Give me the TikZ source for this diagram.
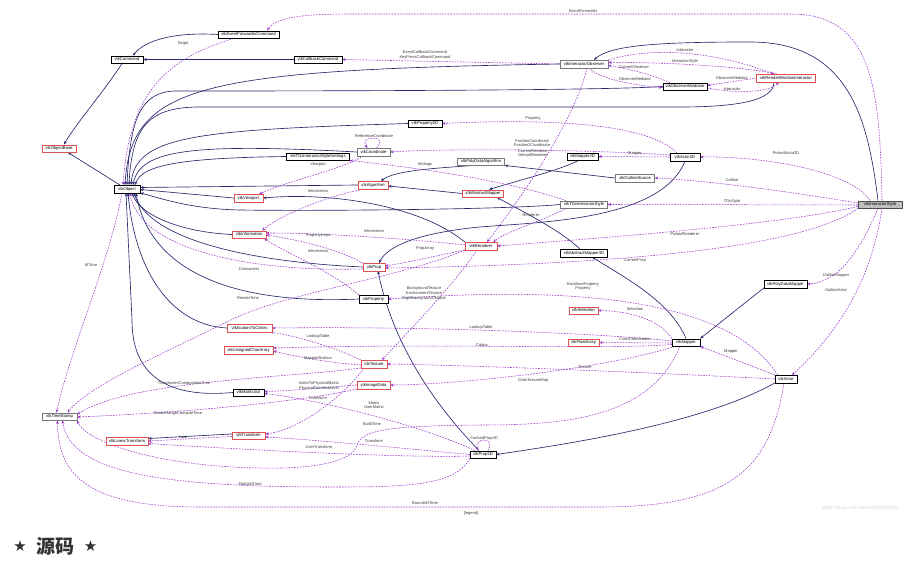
\documentclass[tikz,border=0pt]{standalone}
\usepackage{fontspec}
\setmainfont{Liberation Sans}
\newfontfamily\cjkfont{Noto Sans CJK SC}
\newfontfamily\symfont{DejaVu Sans}
\usetikzlibrary{arrows.meta}
\pgfdeclarelayer{back}
\pgfdeclarelayer{bg}
\pgfsetlayers{back,bg,main}
\definecolor{inhc}{RGB}{40,40,110}
\definecolor{usec}{RGB}{154,50,205}
\definecolor{redb}{RGB}{224,80,80}
\definecolor{grayb}{RGB}{120,120,120}
\definecolor{mainfill}{RGB}{191,191,191}
\definecolor{lblc}{RGB}{60,60,60}
\definecolor{titlec}{RGB}{51,51,51}
\tikzset{
  cls/.style={draw=black, line width=0.45pt, fill=white, font=\fontsize{4.2}{5}\selectfont, inner xsep=1.5pt, inner ysep=0pt, minimum height=7.5pt, text height=3pt, text depth=0.8pt},
  trunc/.style={cls, draw=redb},
  undoc/.style={cls, draw=grayb},
  mainc/.style={cls, fill=mainfill, draw=black!70},
  mw/.style={minimum width=#1pt},
  inh/.style={draw=inhc, line width=0.65pt, -{Stealth[length=3.4pt,width=2.8pt]}},
  use/.style={draw=usec, line width=0.55pt, dash pattern=on 1.6pt off 1.2pt, -{Stealth[length=3.4pt,width=2.8pt]}},
  lbl/.style={font=\fontsize{4}{4.8}\selectfont, text=lblc, inner sep=0pt, align=center},
}
\begin{document}
\begin{tikzpicture}[x=1pt,y=-1pt]
\begin{pgfonlayer}{back}
\fill[white] (0,0) rectangle (922,561);
\end{pgfonlayer}
\useasboundingbox (0,0) rectangle (922,561);
% ---------- classes ----------
\node[cls,mw=61] (EFC) at (248.5,34.5) {vtkEventForwarderCommand};
\node[cls,mw=32] (CMD) at (127,59.5) {vtkCommand};
\node[cls,mw=48] (CBC) at (318,59.5) {vtkCallbackCommand};
\node[undoc,mw=48] (IOB) at (584,64) {vtkInteractorObserver};
\node[trunc,mw=59] (RWI) at (786,78) {vtkRenderWindowInteractor};
\node[cls,mw=44] (OMD) at (685,86.5) {vtkObserverMediator};
\node[cls,mw=34] (P2D) at (425,123.5) {vtkProperty2D};
\node[trunc,mw=34] (OBB) at (59,148.5) {vtkObjectBase};
\node[undoc,mw=33] (CRD) at (373.5,152) {vtkCoordinate};
\node[cls,mw=63] (TDS) at (318,156.5) {vtkTDxInteractorStyleSettings};
\node[undoc,mw=47] (PDA) at (481,161.5) {vtkPolyDataAlgorithm};
\node[cls,mw=31] (M2D) at (582.5,156.5) {vtkMapper2D};
\node[cls,mw=30] (A2D) at (685,157) {vtkActor2D};
\node[cls,mw=26] (OBJ) at (127,189) {vtkObject};
\node[trunc,mw=30] (ALG) at (373,185) {vtkAlgorithm};
\node[undoc,mw=39] (OLS) at (635,178) {vtkOutlineSource};
\node[trunc,mw=41] (AMP) at (483,193.5) {vtkAbstractMapper};
\node[trunc,mw=29] (VPT) at (248.5,198) {vtkViewport};
\node[undoc,mw=47] (TDX) at (584,204.5) {vtkTDxInteractorStyle};
\node[mainc,mw=44] (IST) at (880,204.5) {vtkInteractorStyle};
\node[trunc,mw=34] (INF) at (249,234.5) {vtkInformation};
\node[trunc,mw=32] (REN) at (481,246) {vtkRenderer};
\node[cls,mw=47] (AM3) at (584,253) {vtkAbstractMapper3D};
\node[trunc,mw=22] (PRP) at (374,267) {vtkProp};
\node[cls,mw=29] (PTY) at (373.5,299) {vtkProperty};
\node[cls,mw=43] (PDM) at (785.5,284) {vtkPolyDataMapper};
\node[trunc,mw=29] (SEL) at (583.5,310.5) {vtkSelection};
\node[trunc,mw=45] (S2C) at (249.5,328) {vtkScalarsToColors};
\node[trunc,mw=31] (FLA) at (583.5,342.5) {vtkFloatArray};
\node[cls,mw=28] (MAP) at (686,342.5) {vtkMapper};
\node[trunc,mw=49] (UCA) at (248.5,350) {vtkUnsignedCharArray};
\node[trunc,mw=26] (TEX) at (374,364) {vtkTexture};
\node[cls,mw=22] (ACT) at (786,379) {vtkActor};
\node[trunc,mw=33] (IMD) at (373.5,385) {vtkImageData};
\node[cls,mw=31] (M44) at (248.5,392.5) {vtkMatrix4x4};
\node[undoc,mw=35] (TST) at (59.5,416.5) {vtkTimeStamp};
\node[trunc,mw=33] (TRF) at (248.5,435.5) {vtkTransform};
\node[trunc,mw=42] (LTF) at (127,441) {vtkLinearTransform};
\node[cls,mw=26] (P3D) at (483,454.5) {vtkProp3D};
% ---------- edges ----------
\begin{pgfonlayer}{bg}
% inheritance
\draw[inh] ([xshift=-5pt]CMD.south) .. controls (105,90) and (75,125) .. ([xshift=5pt]OBB.north);
\draw[inh] (EFC.west) .. controls (175,32) and (145,40) .. ([xshift=6pt]CMD.north);
\draw[inh] (CBC.west) -- (CMD.east);
\draw[inh] ([xshift=-7pt]OBJ.north) -- ([xshift=9pt]OBB.south);
\draw[inh] (IOB.west) .. controls (200,70) and (131,85) .. ([xshift=-2pt]OBJ.north);
\draw[inh] (OMD.west) .. controls (600,91) and (250,91) .. (175,91) .. controls (140,92) and (130,120) .. ([xshift=0pt]OBJ.north);
\draw[inh] ([xshift=-12pt]RWI.south) .. controls (774,100) and (740,107) .. (680,107) -- (200,107) .. controls (150,107) and (132,125) .. ([xshift=2pt]OBJ.north);
\draw[inh] (P2D.west) .. controls (200,130) and (135,135) .. ([xshift=4pt]OBJ.north);
\draw[inh] (CRD.west) .. controls (190,143) and (140,150) .. ([xshift=6pt]OBJ.north);
\draw[inh] (TDS.west) .. controls (180,158) and (142,165) .. ([xshift=8pt]OBJ.north);
\draw[inh] (ALG.west) -- ([yshift=1.5pt]OBJ.east);
\draw[inh] (VPT.west) -- ([yshift=-0.5pt]OBJ.east);
\draw[inh] (TDX.west) .. controls (500,210) and (300,211) .. (240,210) .. controls (190,209) and (160,198) .. (OBJ.south east);
\draw[inh] (INF.west) .. controls (180,232) and (140,215) .. ([xshift=5pt]OBJ.south);
\draw[inh] (PRP.west) .. controls (250,262) and (150,240) .. ([xshift=7pt]OBJ.south);
\draw[inh] (PTY.west) .. controls (230,305) and (150,270) .. ([xshift=9pt]OBJ.south);
\draw[inh] (S2C.west) .. controls (170,325) and (135,270) .. ([xshift=1pt]OBJ.south);
\draw[inh] (M44.west) .. controls (150,400) and (132,360) .. (132,320) -- ([xshift=-1pt]OBJ.south);
\draw[inh] ([xshift=-2pt]IST.north) .. controls (868,120) and (850,42) .. (750,42) .. controls (660,42) and (610,45) .. ([xshift=10pt]IOB.north);
\draw[inh] ([xshift=-8pt]PDA.south) .. controls (440,168) and (395,170) .. ([xshift=8pt]ALG.north);
\draw[inh] (OLS.west) -- (PDA.south east);
\draw[inh] ([xshift=-4pt]M2D.south) .. controls (560,170) and (520,180) .. ([xshift=6pt]AMP.north);
\draw[inh] (AMP.west) -- ([yshift=-1pt]ALG.east);
\draw[inh] ([xshift=-4pt]AM3.north) .. controls (560,230) and (520,210) .. ([xshift=14pt]AMP.south);
\draw[inh] (MAP.north) .. controls (670,300) and (620,275) .. ([xshift=8pt]AM3.south);
\draw[inh] (PDM.south west) -- (MAP.north east);
\draw[inh] (ACT.south west) .. controls (700,425) and (560,445) .. (P3D.east);
\draw[inh] ([xshift=-4pt]P3D.north) .. controls (430,400) and (392,340) .. ([xshift=4pt]PRP.south);
\draw[inh] (A2D.south) .. controls (660,225) and (520,222) .. (470,228) .. controls (420,234) and (388,245) .. ([xshift=5pt]PRP.north);
\draw[inh] (REN.north west) .. controls (420,205) and (330,192) .. (VPT.east);
\draw[inh] ([yshift=1.5pt]TRF.west) -- ([yshift=2.5pt]LTF.east);
% usage
\draw[use] ([xshift=2pt]IST.north) .. controls (880,80) and (870,14) .. (790,14) -- (350,14) .. controls (300,14) and (275,18) .. ([xshift=-12pt]EFC.north east);
\draw[use] ([xshift=-15pt]EFC.south) .. controls (160,60) and (129,100) .. ([xshift=-4pt]OBJ.north);
\draw[use] (IOB.west) -- (CBC.east);
\draw[use] (IOB.north east) .. controls (640,50) and (700,46) .. ([xshift=-12pt]RWI.north);
\draw[use] ([xshift=-9pt]RWI.north) .. controls (740,66) and (660,62) .. ([yshift=1.5pt]IOB.east);
\draw[use] ([xshift=-15pt]OMD.north) .. controls (650,74) and (625,68) .. ([yshift=-1.5pt]IOB.east);
\draw[use] ([xshift=5pt]IOB.south) .. controls (600,80) and (640,86) .. ([yshift=-1pt]OMD.west);
\draw[use] (RWI.west) -- ([yshift=1pt]OMD.east);
\draw[use] ([yshift=-1.5pt]OMD.east) .. controls (740,94) and (770,92) .. ([xshift=-7pt]RWI.south);
\draw[use] ([xshift=-8pt]A2D.north) .. controls (650,125) and (560,118) .. (P2D.east);
\draw[use] ([xshift=3pt]CRD.north) .. controls (390,135) and (358,135) .. ([xshift=-6pt]CRD.north);
\draw[use] ([yshift=2pt]A2D.west) .. controls (600,150) and (450,148) .. (CRD.east);
\draw[use] ([xshift=3pt]IOB.south) .. controls (575,120) and (520,200) .. ([xshift=6pt]REN.north);
\draw[use] (A2D.west) -- (M2D.east);
\draw[use] ([xshift=-10pt]IST.north) .. controls (850,170) and (760,156) .. (A2D.east);
\draw[use] ([yshift=1.5pt]IST.west) .. controls (780,190) and (700,180) .. (OLS.east);
\draw[use] ([xshift=-18pt]TDX.north) .. controls (500,178) and (400,166) .. (TDS.south east);
\draw[use] ([xshift=-10pt]CRD.south) .. controls (340,170) and (290,180) .. ([xshift=-4pt]VPT.north east);
\draw[use] ([yshift=-0.5pt]IST.west) -- (TDX.east);
\draw[use] ([xshift=-18pt]TDX.south) .. controls (540,222) and (505,232) .. ([xshift=-4pt]REN.north east);
\draw[use] ([xshift=-8pt]ALG.south) .. controls (330,195) and (280,215) .. ([xshift=-4pt]INF.north east);
\draw[use] ([yshift=-2pt]IST.west) .. controls (780,225) and (600,238) .. (REN.east);
\draw[use] ([yshift=1pt]REN.west) .. controls (420,240) and (330,233) .. ([yshift=1.5pt]INF.east);
\draw[use] (PRP.north west) .. controls (340,250) and (300,240) .. ([yshift=-0.5pt]INF.east);
\draw[use] (PTY.north west) .. controls (330,270) and (280,250) .. ([xshift=-2pt]INF.south east);
\draw[use] (REN.south west) .. controls (440,255) and (410,262) .. ([yshift=1pt]PRP.east);
\draw[use] (IST.south west) .. controls (800,250) and (600,265) .. ([yshift=-1pt]PRP.east);
\draw[use] ([yshift=-2pt]PRP.west) .. controls (250,272) and (140,250) .. ([xshift=3pt]OBJ.south);
\draw[use] ([xshift=-2pt]IST.south) .. controls (860,250) and (840,282) .. (PDM.east);
\draw[use] ([xshift=3pt]ACT.north west) .. controls (720,285) and (520,290) .. (PTY.east);
\draw[use] ([xshift=2pt]IST.south) .. controls (870,290) and (830,340) .. ([xshift=6pt]ACT.north);
\draw[use] ([xshift=-4pt]REN.south) .. controls (450,290) and (400,340) .. ([xshift=8pt]TEX.north);
\draw[use] (REN.south west) .. controls (400,278) and (290,292) .. (235,318) .. controls (160,355) and (90,385) .. ([xshift=8pt]TST.north);
\draw[use] (MAP.north west) .. controls (660,320) and (630,311) .. (SEL.east);
\draw[use] ([yshift=1.5pt]MAP.west) .. controls (620,335) and (450,326) .. (S2C.east);
\draw[use] (TEX.north west) .. controls (330,345) and (290,335) .. ([xshift=-2pt]S2C.south east);
\draw[use] ([yshift=-0.5pt]MAP.west) -- (FLA.east);
\draw[use] ([yshift=-2pt]MAP.west) .. controls (600,350) and (450,343) .. ([yshift=2pt]UCA.east);
\draw[use] (ACT.north west) -- (MAP.south east);
\draw[use] ([yshift=-1pt]TEX.west) .. controls (320,362) and (290,355) .. ([yshift=-1pt]UCA.east);
\draw[use] (ACT.west) .. controls (700,375) and (500,366) .. (TEX.east);
\draw[use] ([xshift=3pt]MAP.south west) .. controls (600,370) and (450,385) .. (IMD.east);
\draw[use] (TEX.south west) .. controls (290,378) and (130,380) .. ([yshift=2pt]TST.east);
\draw[use] (IMD.west) .. controls (330,387) and (290,391) .. ([yshift=1pt]M44.east);
\draw[use] ([xshift=-10pt]TEX.south) .. controls (345,395) and (300,430) .. ([yshift=1.5pt]TRF.east);
\draw[use] ([xshift=-8pt]P3D.north) .. controls (420,425) and (320,400) .. ([yshift=-1pt]M44.east);
\draw[use] (IMD.south west) .. controls (310,400) and (200,412) .. ([yshift=-0.5pt]TST.east);
\draw[use] ([xshift=8pt]MAP.south west) .. controls (650,420) and (560,425) .. (480,425) .. controls (400,426) and (362,428) .. (357,445) .. controls (352,465) and (300,469) .. (260,468) .. controls (150,466) and (85,440) .. (TST.south east);
\draw[use] ([yshift=-1pt]TRF.west) -- (LTF.east);
\draw[use] (P3D.west) .. controls (420,450) and (320,440) .. ([yshift=-1.5pt]TRF.east);
\draw[use] ([yshift=-1.5pt]P3D.west) .. controls (400,458) and (250,450) .. ([yshift=-2.5pt]LTF.east);
\draw[use] ([xshift=5pt]P3D.north) .. controls (497,437) and (473,437) .. ([xshift=-5pt]P3D.north);
\draw[use] (P3D.south west) .. controls (455,487) and (400,487) .. (330,487) .. controls (150,487) and (70,470) .. ([xshift=3pt]TST.south);
\draw[use] ([xshift=-2pt]ACT.south) .. controls (770,470) and (730,507) .. (600,507) -- (200,507) .. controls (80,507) and (58,470) .. ([xshift=-2pt]TST.south);
\draw[use] ([xshift=-5pt]OBJ.south) .. controls (110,260) and (70,350) .. ([xshift=-3pt]TST.north);
\end{pgfonlayer}
% ---------- labels ----------
\node[lbl] (l1) at (583,11.5) {EventForwarder};
\node[lbl] (l2) at (183,44) {Target};
\node[lbl] (l3) at (425,55) {EventCallbackCommand\\KeyPressCallbackCommand};
\node[lbl] (l4) at (685,50.5) {Interactor};
\node[lbl] (l5) at (685,61.5) {InteractorStyle};
\node[lbl] (l6) at (634,67) {CurrentObserver};
\node[lbl] (l7) at (635,79.5) {ObserverMediator};
\node[lbl] (l8) at (732,78.5) {ObserverMediator};
\node[lbl] (l9) at (732,89) {Interactor};
\node[lbl] (l10) at (533,118.5) {Property};
\node[lbl] (l11) at (374,136.5) {ReferenceCoordinate};
\node[lbl] (l12) at (532,143) {PositionCoordinate\\Position2Coordinate};
\node[lbl] (l13) at (533,153) {CurrentRenderer\\DefaultRenderer};
\node[lbl] (l14) at (635,153.5) {Mapper};
\node[lbl] (l15) at (786,153.5) {PickedActor2D};
\node[lbl] (l16) at (732,180) {Outline};
\node[lbl] (l17) at (425,164.5) {Settings};
\node[lbl] (l18) at (318,164.5) {Viewport};
\node[lbl] (l19) at (732,201.5) {TDxStyle};
\node[lbl] (l20) at (531,215.5) {Renderer};
\node[lbl] (l21) at (318,191) {Information};
\node[lbl] (l22) at (685,234.5) {PickedRenderer};
\node[lbl] (l23) at (374,231.5) {Information};
\node[lbl] (l24) at (318,236) {PropertyKeys};
\node[lbl] (l25) at (318,251) {Information};
\node[lbl] (l26) at (425,249) {PropArray};
\node[lbl] (l27) at (635,260.5) {CurrentProp};
\node[lbl] (l28) at (249,269) {Consumers};
\node[lbl] (l29) at (836,275.5) {OutlineMapper};
\node[lbl] (l30) at (583,286.5) {BackfaceProperty\\Property};
\node[lbl] (l31) at (836,290.5) {OutlineActor};
\node[lbl] (l32) at (424,293.5) {BackgroundTexture\\EnvironmentTexture\\RightBackgroundTexture};
\node[lbl] (l33) at (248,298) {RenderTime};
\node[lbl] (l34) at (635,309) {Selection};
\node[lbl] (l35) at (481,327.5) {LookupTable};
\node[lbl] (l36) at (318,336.5) {LookupTable};
\node[lbl] (l37) at (635,339.5) {ColorCoordinates};
\node[lbl] (l38) at (482,345) {Colors};
\node[lbl] (l39) at (731,351.5) {Mapper};
\node[lbl] (l40) at (318,358.5) {MappedScalars};
\node[lbl] (l41) at (585,367.5) {Texture};
\node[lbl] (l42) at (533,380.5) {ColorTextureMap};
\node[lbl] (l43) at (184,383) {TranslucentComputationTime};
\node[lbl] (l44) at (319,386) {IndexToPhysicalMatrix\\PhysicalToIndexMatrix};
\node[lbl] (l45) at (318,398) {Transform};
\node[lbl] (l46) at (374,405) {Matrix\\UserMatrix};
\node[lbl] (l47) at (178,413.5) {ScalarRangeComputeTime};
\node[lbl] (l48) at (372,424.5) {BuildTime};
\node[lbl] (l49) at (183,437.5) {Input};
\node[lbl] (l50) at (374,441) {Transform};
\node[lbl] (l51) at (319,447.5) {UserTransform};
\node[lbl] (l52) at (484,438.5) {CachedProp3D};
\node[lbl] (l53) at (250,484) {MatrixMTime};
\node[lbl] (l54) at (425,503.5) {BoundsMTime};
\node[lbl] (l55) at (91,265) {MTime};
\node[lbl] (legend) at (471,513) {[legend]};
\node[lbl, text=black!15, font=\fontsize{5}{6}\selectfont] (wm) at (860,508) {https://blog.csdn.net/a2509938080};
\node[inner sep=0pt, text=titlec, font=\fontsize{15}{18}\selectfont\symfont] (star1) at (20,546.5) {★};
\node[inner sep=0pt, text=titlec, font=\fontsize{19}{22}\selectfont\cjkfont\bfseries] (title) at (55,546) {源码};
\node[inner sep=0pt, text=titlec, font=\fontsize{15}{18}\selectfont\symfont] (star2) at (90.5,546.5) {★};
\end{tikzpicture}
\end{document}
